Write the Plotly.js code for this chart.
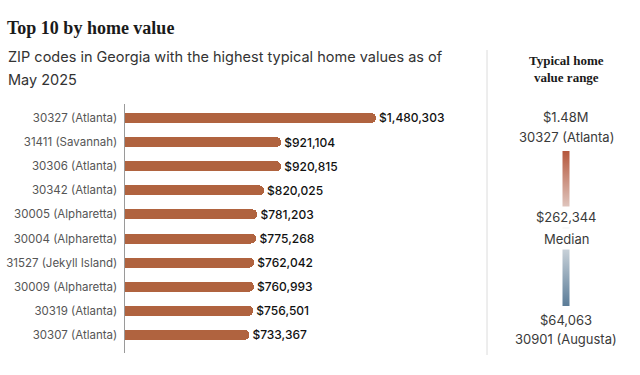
<!DOCTYPE html>
<html>
<head>
<meta charset="utf-8">
<script src="https://cdn.plot.ly/plotly-3.0.1.min.js"></script>
<style>html,body{margin:0;padding:0;background:#fff;}#chart{width:640px;height:375px;}</style>
</head>
<body>
<div id="chart"></div>
<script>
// ---- data ----
const zipLabels = ["30327 (Atlanta)", "31411 (Savannah)", "30306 (Atlanta)", "30342 (Atlanta)", "30005 (Alpharetta)", "30004 (Alpharetta)", "31527 (Jekyll Island)", "30009 (Alpharetta)", "30319 (Atlanta)", "30307 (Atlanta)"];
const homeValues = [1480303, 921104, 920815, 820025, 781203, 775268, 762042, 760993, 756501, 733367];
const rangeMaxValue = 1480303;
const rangeMaxLabel = "$1.48M";
const rangeMaxZip = "30327 (Atlanta)";
const medianValue = 262344;
const medianLabel = "$262,344";
const rangeMinValue = 64063;
const rangeMinLabel = "$64,063";
const rangeMinZip = "30901 (Augusta)";

// ---- layout helpers (pixel -> paper) ----
const W = 640, H = 375, L = 125, R = 480, T = 104, B = 353;
const px = x => (x - L) / (R - L);
const py = y => (B - y) / (B - T);
const pxPerUnit = 169.6e-6;

const fmt = v => "$" + v.toLocaleString("en-US");
const sans = "Inter, 'Open Sans', sans-serif";
const serif = "'Liberation Serif', 'DejaVu Serif', serif";

const bars = {
  type: "bar",
  orientation: "h",
  x: homeValues,
  y: zipLabels,
  width: 0.415,
  marker: { color: "#B0633F", cornerradius: 5, line: { width: 0 } },
  text: homeValues.map(fmt),
  textposition: "outside",
  constraintext: "none",
  textfont: { family: sans, size: 12, color: "#111", weight: 500 },
  cliponaxis: false,
  hoverinfo: "none"
};

const scaleTrace = {
  type: "scatter",
  mode: "markers",
  x: [null], y: [null],
  showlegend: false,
  hoverinfo: "none",
  marker: {
    color: [medianValue],
    cmin: rangeMinValue,
    cmax: rangeMaxValue,
    colorscale: [[0, "#5B7C98"], [0.5, "#F0F0F0"], [1, "#B5573C"]],
    showscale: true,
    colorbar: {
      xref: "paper", yref: "paper",
      x: px(566), xanchor: "center",
      y: py(228.5), yanchor: "middle",
      len: 155, lenmode: "pixels",
      thickness: 7, thicknessmode: "pixels",
      xpad: 0, ypad: 0,
      outlinewidth: 0,
      showticklabels: false, ticks: ""
    }
  }
};

const ann = (text, x, y, opts) => Object.assign({
  text, xref: "paper", yref: "paper", x: px(x), y: py(y),
  showarrow: false, xanchor: "center", yanchor: "middle",
  font: { family: sans, size: 13, color: "#3a3a3a" }
}, opts || {});

const layout = {
  width: W, height: H,
  margin: { l: L, r: W - R, t: T, b: H - B, pad: 0 },
  paper_bgcolor: "#fff", plot_bgcolor: "#fff",
  showlegend: false,
  bargap: 0,
  xaxis: {
    range: [0, (R - L) / pxPerUnit],
    visible: false, fixedrange: true
  },
  yaxis: {
    type: "category",
    range: [9.75, -0.58],
    showline: true, linecolor: "#9a9a9a", linewidth: 1.5,
    showgrid: false, zeroline: false, ticks: "",
    ticklabelstandoff: 4,
    tickfont: { family: sans, size: 11.5, color: "#555" },
    fixedrange: true
  },
  shapes: [{
    type: "line", xref: "paper", yref: "paper",
    x0: px(487), x1: px(487), y0: py(50), y1: py(355),
    line: { color: "#dcdcdc", width: 1 }
  }],
  annotations: [
    ann("<b>Top 10 by home value</b>", 5, 28, { xanchor: "left", font: { family: serif, size: 18, color: "#1a1a1a" } }),
    ann("ZIP codes in Georgia with the highest typical home values as of", 6, 57, { xanchor: "left", font: { family: sans, size: 14.5, color: "#333" } }),
    ann("May 2025", 6, 80, { xanchor: "left", font: { family: sans, size: 14.5, color: "#333" } }),
    ann("<b>Typical home</b>", 566, 60, { font: { family: serif, size: 13, color: "#1a1a1a" } }),
    ann("<b>value range</b>", 566, 77, { font: { family: serif, size: 13, color: "#1a1a1a" } }),
    ann(rangeMaxLabel, 566, 117),
    ann(rangeMaxZip, 566, 137),
    ann(medianLabel, 566, 217, { bgcolor: "#fff", borderpad: 2 }),
    ann("Median", 566, 239, { bgcolor: "#fff", borderpad: 2 }),
    ann(rangeMinLabel, 566, 320),
    ann(rangeMinZip, 566, 339)
  ]
};

Plotly.newPlot("chart", [bars, scaleTrace], layout, { displayModeBar: false, staticPlot: true });
</script>
</body>
</html>
